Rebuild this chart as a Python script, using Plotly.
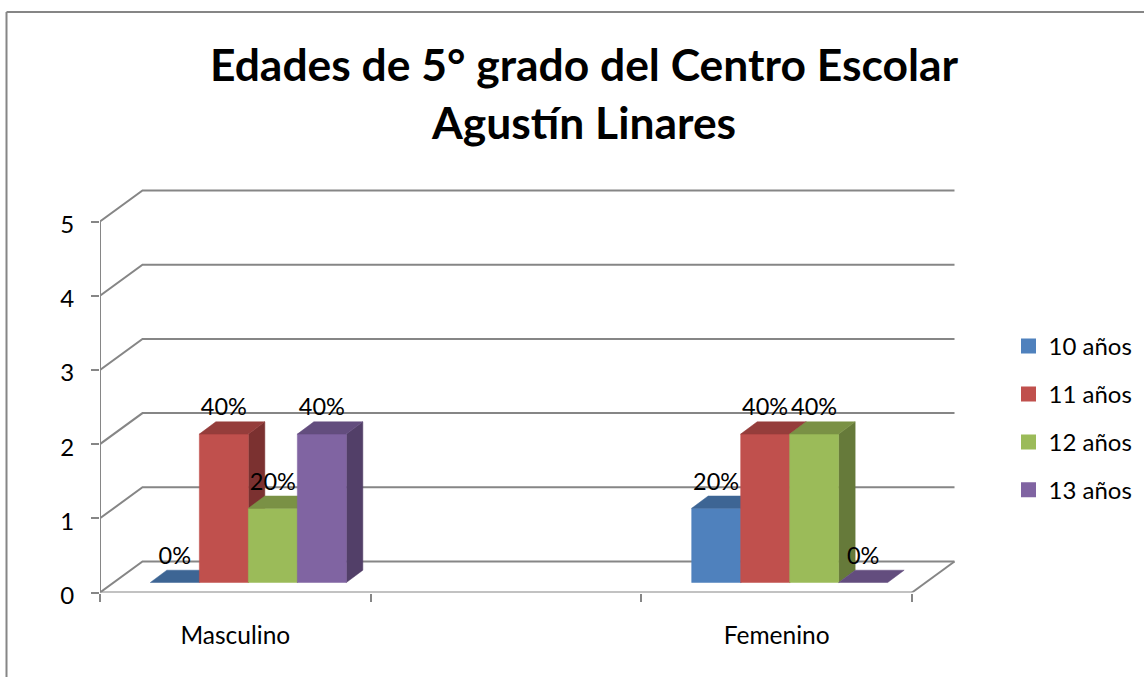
import plotly.graph_objects as go

# ---- data ----
categories = ["Masculino", "", "Femenino"]
series_names = ["10 años", "11 años", "12 años", "13 años"]
values_10 = [0, None, 1]
values_11 = [2, None, 2]
values_12 = [1, None, 2]
values_13 = [2, None, 0]
labels_10 = ["0%", "", "20%"]
labels_11 = ["40%", "", "40%"]
labels_12 = ["20%", "", "40%"]
labels_13 = ["40%", "", "0%"]
y_ticks = [0, 1, 2, 3, 4, 5]
title_lines = ["Edades de 5° grado del Centro Escolar", "Agustín Linares"]

all_values = [values_10, values_11, values_12, values_13]
all_labels = [labels_10, labels_11, labels_12, labels_13]
front_colors = ["#4F81BD", "#C0504D", "#9BBB59", "#8064A2"]
top_colors = ["#3D6594", "#953D3B", "#7A9145", "#634D7E"]
side_colors = ["#355780", "#7B3130", "#667A3A", "#523F68"]

# ---- figure geometry (pixels of the page) ----
W, H = 1144, 677
PX_LEFT, PX_FRONT_RIGHT, PX_RIGHT = 100.0, 912.0, 962.0
PX_ZERO, PX_UNIT = 592.5, 74.2
X_UNIT = (PX_FRONT_RIGHT - PX_LEFT) / len(categories)
Y_TOP = 5.5
X_MIN, X_FRONT = -0.5, 2.5
X_MAX = X_FRONT + (PX_RIGHT - PX_FRONT_RIGHT) / X_UNIT

# 3D look, expressed in axis units
WALL_DX = 42.5 / X_UNIT
WALL_DY = 31.0 / PX_UNIT
BAR_SHIFT_X = 13.0 / X_UNIT
BAR_SHIFT_Y = 10.0 / PX_UNIT
BAR_DX = 16.5 / X_UNIT
BAR_DY = 12.3 / PX_UNIT
BAR_W = 49.0 / X_UNIT
LABEL_UP = 24.5 / PX_UNIT

GRID = "#868686"
FONT = "Lato, 'Open Sans', sans-serif"

fig = go.Figure()


def line(xs, ys, width=2.0):
    fig.add_trace(go.Scatter(x=xs, y=ys, mode="lines", showlegend=False, hoverinfo="skip",
                             cliponaxis=False, line=dict(color=GRID, width=width)))


def face(xs, ys, color):
    fig.add_trace(go.Scatter(x=xs, y=ys, mode="lines", fill="toself", fillcolor=color,
                             showlegend=False, hoverinfo="skip", cliponaxis=False,
                             line=dict(color=color, width=0.5)))


# back wall grid and left wall lines
for t in y_ticks:
    line([X_MIN, X_MIN + WALL_DX, X_FRONT + WALL_DX],
         [t, t + WALL_DY, t + WALL_DY])
# floor right edge, front axis lines
line([X_FRONT, X_FRONT + WALL_DX], [0, WALL_DY])
line([X_MIN, X_FRONT], [0, 0])
line([X_MIN, X_MIN], [0, y_ticks[-1]])

# bars: drawn left to right so that later side faces stack correctly
n = len(series_names)
for ci in range(len(categories)):
    for si in range(n):
        v = all_values[si][ci]
        if v is None:
            continue
        x0 = ci - n * BAR_W / 2 + si * BAR_W + BAR_SHIFT_X
        x1 = x0 + BAR_W
        b = BAR_SHIFT_Y
        t = v + BAR_SHIFT_Y
        if v > 0:
            face([x1, x1 + BAR_DX, x1 + BAR_DX, x1, x1],
                 [b, b + BAR_DY, t + BAR_DY, t, b], side_colors[si])
            face([x0, x1, x1, x0, x0], [b, b, t, t, b], front_colors[si])
        face([x0, x1, x1 + BAR_DX, x0 + BAR_DX, x0],
             [t, t, t + BAR_DY, t + BAR_DY, t], top_colors[si])

# data labels
for si in range(n):
    xs, ys, ts = [], [], []
    for ci in range(len(categories)):
        v = all_values[si][ci]
        if v is None:
            continue
        xs.append(ci - n * BAR_W / 2 + (si + 0.5) * BAR_W + BAR_SHIFT_X)
        ys.append(v + BAR_SHIFT_Y + LABEL_UP)
        ts.append(all_labels[si][ci])
    fig.add_trace(go.Scatter(x=xs, y=ys, text=ts, mode="text", textposition="middle center",
                             showlegend=False, hoverinfo="skip", cliponaxis=False,
                             textfont=dict(family=FONT, size=23.5, color="#000000")))

# legend entries
for si, name in enumerate(series_names):
    fig.add_trace(go.Scatter(x=[None], y=[None], mode="markers", name=name, legendgroup=name,
                             marker=dict(symbol="square", size=15, color=front_colors[si])))

fig.update_layout(
    width=W, height=H, autosize=False,
    margin=dict(l=0, r=0, t=0, b=0, pad=0),
    paper_bgcolor="white", plot_bgcolor="white",
    font=dict(family=FONT, color="#000000"),
    title=dict(text="<br>".join(title_lines), x=584 / W, xanchor="center",
               y=1 - 81 / H, yanchor="middle",
               font=dict(family=FONT, size=44.4, color="#000000", weight="bold")),
    xaxis=dict(domain=[PX_LEFT / W, PX_RIGHT / W], range=[X_MIN, X_MAX],
               showgrid=False, zeroline=False, showline=False, automargin=False,
               tickmode="array", tickvals=[0, 1, 2], ticktext=categories, ticks="",
               ticklabelstandoff=26, tickfont=dict(family=FONT, size=24.5),
               minor=dict(tickmode="array", tickvals=[-0.5, 0.5, 1.5, 2.5], ticks="outside",
                          ticklen=8, tickwidth=2, tickcolor=GRID, showgrid=False)),
    yaxis=dict(domain=[1 - (PX_ZERO) / H, 1 - (PX_ZERO - Y_TOP * PX_UNIT) / H],
               range=[0, Y_TOP], showgrid=False, zeroline=False, showline=False, automargin=False,
               tickmode="array", tickvals=y_ticks, ticks="outside", ticklen=8, tickwidth=2,
               tickcolor=GRID, ticklabelstandoff=12, ticklabelshift=3,
               tickfont=dict(family=FONT, size=24)),
    legend=dict(x=1008.5 / W, xanchor="left", y=1 - 324 / H, yanchor="top",
                tracegroupgap=13.7, font=dict(family=FONT, size=24), bgcolor="rgba(0,0,0,0)",
                itemclick=False, itemdoubleclick=False),
    shapes=[
        dict(type="line", xref="paper", yref="paper", x0=6.5 / W, x1=6.5 / W, y0=0, y1=1 - 12 / H,
             line=dict(color=GRID, width=2)),
        dict(type="line", xref="paper", yref="paper", x0=6.5 / W, x1=1, y0=1 - 12 / H, y1=1 - 12 / H,
             line=dict(color=GRID, width=2)),
    ],
)

fig.write_html("out.html", config={"displayModeBar": False},
               post_script="document.body.style.margin='0';")
